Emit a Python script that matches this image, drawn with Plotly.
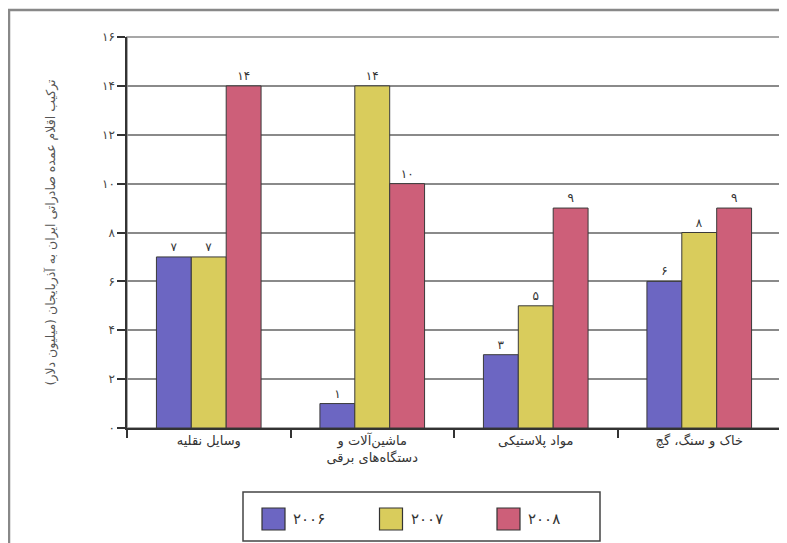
import plotly.graph_objects as go

categories = ["وسایل نقلیه", "ماشین‌آلات و<br>دستگاه‌های برقی", "مواد پلاستیکی", "خاک و سنگ، گچ"]
years = ["2006", "2007", "2008"]
values_2006 = [7, 1, 3, 6]
values_2007 = [7, 14, 5, 8]
values_2008 = [14, 10, 9, 9]
tick_values = [0, 2, 4, 6, 8, 10, 12, 14, 16]
y_title = "ترکیب اقلام عمده صادراتی ایران به آذربایجان (میلیون دلار)"

PERSIAN = "۰۱۲۳۴۵۶۷۸۹"
def fa(s):
    return "".join(PERSIAN[int(c)] if c.isdigit() else c for c in str(s))

colors = ["#6c66c2", "#d9cc5c", "#cd5f79"]
series = [values_2006, values_2007, values_2008]

# page body has an 8px margin: figure origin sits at screen (8, 8)
W, H = 779, 535
PL, PR, PT, PB = 127, 781, 37, 428  # plot area in screen pixels
def px(sx):
    return (sx - PL) / (PR - PL)
def py(sy):
    return (PB - sy) / (PB - PT)

fig = go.Figure()
for yr, vals, col in zip(years, series, colors):
    fig.add_trace(go.Bar(
        x=categories, y=vals, name=fa(yr),
        marker=dict(color=col, line=dict(color="#3a3a3a", width=1)),
        text=[fa(v) for v in vals], textposition="outside",
        textfont=dict(size=12, color="#333", family="DejaVu Sans"),
        cliponaxis=False, showlegend=False,
    ))

shapes = [
    dict(type="rect", xref="paper", yref="paper", x0=0, x1=1, y0=0, y1=1,
         line=dict(color="#8a8a8a", width=1.5), layer="below"),
    dict(type="rect", xref="paper", yref="paper", x0=px(9), x1=1.1, y0=-0.5, y1=py(10),
         line=dict(color="#888", width=2.5)),
    # legend box
    dict(type="rect", xref="paper", yref="paper", x0=px(243), x1=px(600), y0=py(541), y1=py(492),
         line=dict(color="#444", width=1.5), fillcolor="white"),
]
annotations = [
    dict(text=y_title, xref="paper", yref="paper", x=px(40), y=0.5,
         textangle=-90, showarrow=False, font=dict(size=12.5, color="#555")),
]
for i, (yr, col) in enumerate(zip(years, colors)):
    sx = 262 + i * 117.5
    shapes.append(dict(type="rect", xref="paper", yref="paper",
                       x0=px(sx), x1=px(sx + 23), y0=py(530), y1=py(508),
                       fillcolor=col, line=dict(color="#333", width=1.2)))
    annotations.append(dict(text=fa(yr), xref="paper", yref="paper",
                            x=px(sx + 29), y=py(519), xanchor="left", yanchor="middle",
                            showarrow=False, font=dict(size=15, color="#333")))

fig.update_layout(
    width=W, height=H,
    margin=dict(l=PL - 8, r=W - (PR - 8), t=PT - 8, b=H - (PB - 8), autoexpand=False),
    paper_bgcolor="white", plot_bgcolor="white",
    barmode="group", bargap=0.36, bargroupgap=0,
    font=dict(family="DejaVu Sans", color="#333"),
    showlegend=False,
    xaxis=dict(
        type="category", tickson="boundaries", ticks="outside", ticklen=8,
        tickcolor="#333", tickwidth=1.5, showline=True, linecolor="#333", linewidth=1.5,
        tickfont=dict(size=13, color="#333"), showgrid=False,
    ),
    yaxis=dict(
        range=[0, 16], tickvals=tick_values, ticktext=[fa(v) for v in tick_values],
        ticks="outside", ticklen=8, tickcolor="#333", tickwidth=1.5,
        showline=True, linecolor="#333", linewidth=1.5,
        showgrid=True, gridcolor="#8a8a8a", gridwidth=1.5,
        tickfont=dict(size=12, color="#444"), zeroline=False,
    ),
    shapes=shapes,
    annotations=annotations,
)

fig.write_html("out.html")
